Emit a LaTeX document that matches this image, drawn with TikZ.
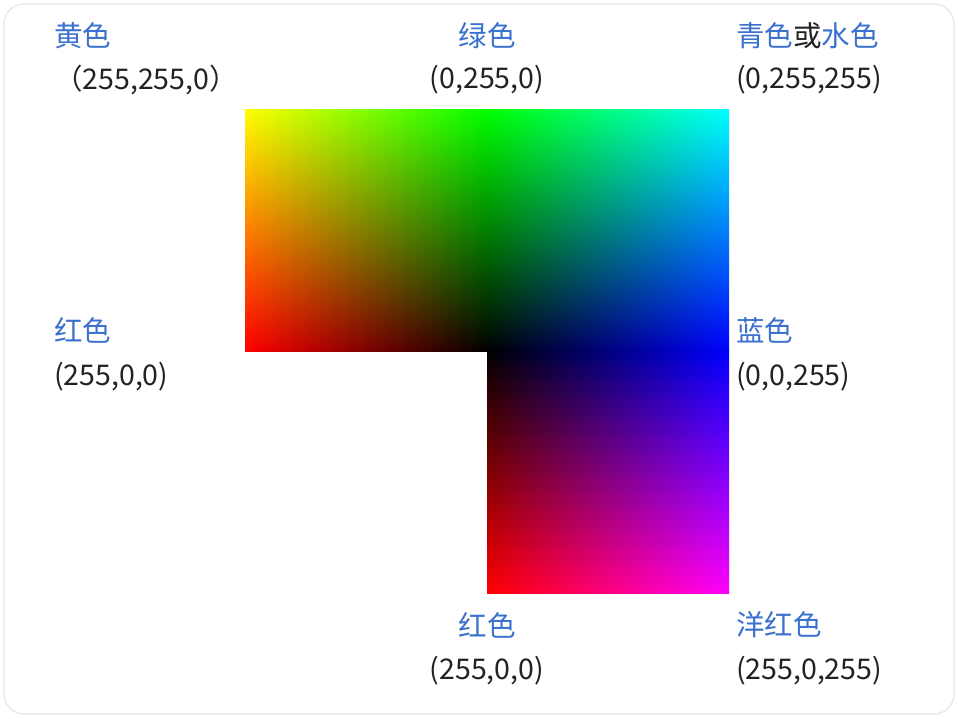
\documentclass[tikz,border=0pt]{standalone}
\usepackage{fontspec}
\setmainfont{Noto Sans CJK SC}
\pgfdeclarefunctionalshading{sqtl}{\pgfpoint{0bp}{0bp}}{\pgfpoint{100bp}{100bp}}{}{
 25 sub 50 div exch 25 sub 50 div 1 exch sub exch 0
}
\pgfdeclarefunctionalshading{sqtr}{\pgfpoint{0bp}{0bp}}{\pgfpoint{100bp}{100bp}}{}{
 25 sub 50 div exch 25 sub 50 div 0 3 1 roll
}
\pgfdeclarefunctionalshading{sqbr}{\pgfpoint{0bp}{0bp}}{\pgfpoint{100bp}{100bp}}{}{
 25 sub 50 div 1 exch sub exch 25 sub 50 div 0 exch
}
\definecolor{lblue}{RGB}{58,112,206}
\definecolor{ltext}{RGB}{34,34,34}
\definecolor{frame}{RGB}{234,234,234}
\begin{document}
\begin{tikzpicture}[x=1pt,y=-1pt,
  cname/.style={text=lblue,font=\fontsize{28.5}{32}\selectfont,inner sep=0pt},
  cval/.style={text=ltext,font=\fontsize{28.5}{32}\selectfont,inner sep=0pt}]
\useasboundingbox (0,0) rectangle (958,718);
\draw[frame,line width=1.5pt,rounded corners=20pt,fill=white] (4,4) rectangle (954,714);
\path[shading=sqtl] (245,109) rectangle (487,351);
\path[shading=sqtr] (487,109) rectangle (729,351);
\path[shading=sqbr] (487,351) rectangle (729,593);
% top row
\node[cname,anchor=west] (yname) at (54,36) {黄色};
\node[cval,anchor=west] (yval) at (54,80) {（255,255,0）};
\node[cname] (gname) at (487,36) {绿色};
\node[cval] (gval) at (487,80) {(0,255,0)};
\node[cname,anchor=west] (cname) at (736,36) {青色\textcolor{ltext}{或}水色};
\node[cval,anchor=west] (cval) at (736,80) {(0,255,255)};
% middle row
\node[cname,anchor=west] (rname) at (54,330) {红色};
\node[cval,anchor=west] (rval) at (54,377) {(255,0,0)};
\node[cname,anchor=west] (bname) at (736,330) {蓝色};
\node[cval,anchor=west] (bval) at (736,377) {(0,0,255)};
% bottom row
\node[cname] (r2name) at (487,625) {红色};
\node[cval] (r2val) at (487,671) {(255,0,0)};
\node[cname,anchor=west] (mname) at (736,625) {洋红色};
\node[cval,anchor=west] (mval) at (736,671) {(255,0,255)};
\end{tikzpicture}
\end{document}
